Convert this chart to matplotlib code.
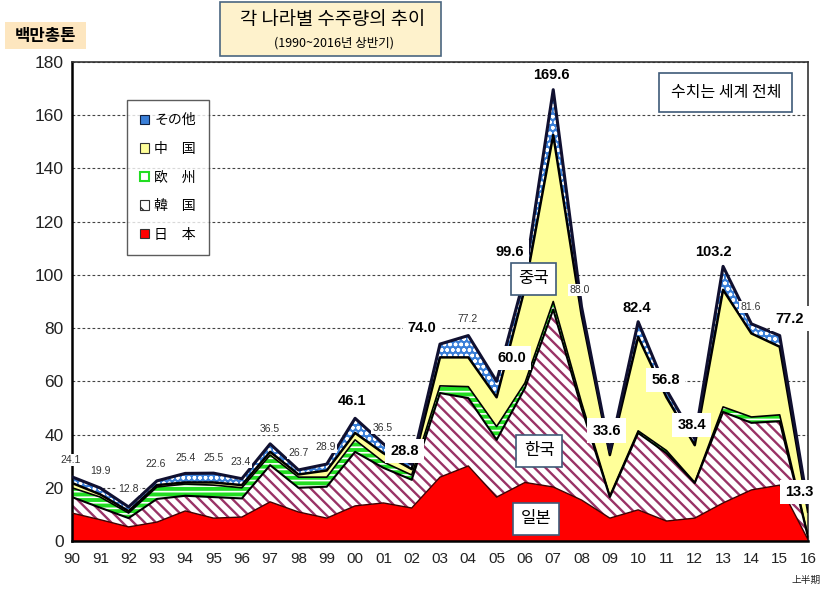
import matplotlib
matplotlib.use('Agg')
import matplotlib.pyplot as plt
from matplotlib.patches import Rectangle, Patch
import numpy as np

plt.rcParams['font.family'] = ['Liberation Sans', 'Noto Sans CJK KR', 'DejaVu Sans']

years = ['90', '91', '92', '93', '94', '95', '96', '97', '98', '99', '00', '01', '02',
         '03', '04', '05', '06', '07', '08', '09', '10', '11', '12', '13', '14', '15', '16']

# 백만총톤
japan = [10.5, 8.0, 5.3, 7.1, 11.3, 8.6, 9.0, 14.7, 10.9, 8.6, 13.2, 14.3, 12.4,
         24.0, 28.2, 16.5, 22.0, 20.3, 15.4, 8.6, 11.7, 7.5, 8.6, 14.3, 19.2, 21.0, 0.5]
korea = [6.0, 4.5, 3.3, 8.7, 5.7, 7.9, 7.0, 13.8, 9.1, 11.8, 20.3, 13.2, 10.6,
         31.6, 25.5, 21.5, 35.5, 66.7, 34.6, 7.9, 28.9, 25.5, 13.2, 34.2, 25.2, 24.0, 1.0]
europe = [3.5, 4.0, 1.9, 4.5, 4.4, 4.5, 4.0, 3.8, 4.0, 3.6, 4.5, 2.2, 1.8,
          2.7, 4.3, 5.0, 1.9, 3.0, 2.0, 0.5, 0.8, 1.0, 0.2, 1.9, 2.2, 2.4, 0.5]
china = [1.8, 1.0, 0.7, 0.7, 0.6, 1.0, 1.0, 1.2, 1.0, 2.5, 2.6, 3.3, 2.2,
         10.7, 11.0, 11.0, 35.6, 62.6, 33.0, 15.3, 35.3, 20.0, 14.0, 44.0, 31.4, 25.6, 9.0]
totals = [24.1, 19.9, 12.8, 22.6, 25.4, 25.5, 23.4, 36.5, 26.7, 28.9, 46.1, 36.5, 28.8,
          74.0, 77.2, 60.0, 99.6, 169.6, 88.0, 33.6, 82.4, 56.8, 38.4, 103.2, 81.6, 77.2, 13.3]
big_label = [0, 0, 0, 0, 0, 0, 0, 0, 0, 0, 1, 0, 1, 1, 0, 1, 1, 1, 0, 1, 1, 1, 1, 1, 0, 1, 1]

# label offsets in pixels from the top of the stack
label_dx = [-1, 0, 0, -1, 0, 0, -1, 0, 0, -1, -3, -1, -7, -18, -1, 15, -15, -2, -2, -3,
            -1, -1, -3, -10, -1, 10, -9]
label_dy = [17, 17, 18, 17, 15, 15, 17, 15, 17, 17, 17, 16, 13, 16, 17, 23, 24, 15, 17, 21,
            14, 10, 14, 14, 17, 17, 14]

x = np.arange(len(years))
c1 = np.array(japan)
c2 = c1 + np.array(korea)
c3 = c2 + np.array(europe)
c4 = c3 + np.array(china)
c5 = np.array(totals)

fig = plt.figure(figsize=(8.34, 5.96), dpi=100)
ax = fig.add_axes([72 / 834, 55 / 596, 736 / 834, 479 / 596])

red = '#ff0000'
maroon = '#993366'
green = '#22dd22'
yellow = '#ffff99'
blue = '#3a7fd8'

ax.fill_between(x, 0, c1, facecolor=red, linewidth=0, zorder=2)
with plt.rc_context({'hatch.linewidth': 1.7}):
    ax.fill_between(x, c1, c2, facecolor='white', hatch='\\\\\\', edgecolor=maroon,
                    linewidth=0, zorder=2)
with plt.rc_context({'hatch.linewidth': 1.2}):
    ax.fill_between(x, c2, c3, facecolor=green, hatch='---', edgecolor='white',
                    linewidth=0, zorder=2)
ax.fill_between(x, c3, c4, facecolor=yellow, linewidth=0, zorder=2)
with plt.rc_context({'hatch.linewidth': 1.0}):
    ax.fill_between(x, c4, c5, facecolor=blue, hatch='ooo', edgecolor='white',
                    linewidth=0, zorder=2)

ax.plot(x, c1, color='#400000', lw=1.0, zorder=3)
ax.plot(x, c2, color='black', lw=1.5, zorder=3)
ax.plot(x, c3, color='black', lw=1.2, zorder=3)
ax.plot(x, c4, color='black', lw=1.8, zorder=3)
ax.plot(x, c5, color='#101030', lw=2.2, zorder=3)

ax.set_xlim(0, len(years) - 1)
ax.set_ylim(0, 180)
ax.set_yticks(np.arange(0, 181, 20))
ax.set_xticks(x)
ax.set_xticklabels(years)
ax.tick_params(axis='y', length=0, labelsize=12.5, pad=6)
ax.tick_params(axis='x', direction='in', length=4, labelsize=11, pad=8, color='#444444')
for t in ax.get_yticklabels() + ax.get_xticklabels():
    t.set_color('#222222')
ax.grid(axis='y', color='#444444', linestyle=(0, (2.5, 2)), linewidth=0.8, zorder=1)
ax.set_axisbelow(True)
for side in ['left', 'bottom']:
    ax.spines[side].set_linewidth(1.8)
for side in ['top', 'right']:
    ax.spines[side].set_linewidth(1.2)
    ax.spines[side].set_color('#333333')

for i, v in enumerate(totals):
    if big_label[i]:
        ax.annotate(f'{v:.1f}', xy=(i, v), xytext=(label_dx[i], label_dy[i]),
                    textcoords='offset pixels', ha='center', va='center',
                    fontsize=10.5, fontweight='bold', color='black', zorder=6,
                    bbox=dict(boxstyle='square,pad=0.35', facecolor='white', edgecolor='none'))
    else:
        ax.annotate(f'{v:.1f}', xy=(i, v), xytext=(label_dx[i], label_dy[i]),
                    textcoords='offset pixels', ha='center', va='center',
                    fontsize=7.5, color='#333333', zorder=6,
                    bbox=dict(boxstyle='square,pad=0.1', facecolor='white', edgecolor='none'))

# country callouts
box_style = dict(boxstyle='square,pad=0.45', facecolor='white', edgecolor='#3e5a78', linewidth=1.2)
ax.text(16.3, 98.5, '중국', fontsize=12, ha='center', va='center', zorder=7, bbox=box_style,
        family=['Noto Sans CJK KR'])
ax.text(16.5, 34.0, '한국', fontsize=12, ha='center', va='center', zorder=7, bbox=box_style,
        family=['Noto Sans CJK KR'])
ax.text(16.4, 8.3, '일본', fontsize=12, ha='center', va='center', zorder=7, bbox=box_style,
        family=['Noto Sans CJK KR'])
ax.text(23.1, 168.5, '수치는 세계 전체', fontsize=11.5, ha='center', va='center', zorder=7,
        family=['Noto Sans CJK KR'], fontweight='medium',
        bbox=dict(boxstyle='square,pad=0.7', facecolor='white', edgecolor='#3e5a78', linewidth=1.2))

# legend
handles = [
    Patch(facecolor=blue, edgecolor='#102040', linewidth=0.8),
    Patch(facecolor=yellow, edgecolor='#333333', linewidth=0.8),
    Patch(facecolor='white', edgecolor=green, linewidth=1.5),
    Patch(facecolor='white', edgecolor='#333333', linewidth=0.8, hatch='\\\\'),
    Patch(facecolor=red, edgecolor='#333333', linewidth=0.8),
]
names = ['その他', '中\u3000国', '欧\u3000州', '韓\u3000国', '日\u3000本']
leg = ax.legend(handles, names, loc='upper left', bbox_to_anchor=(55 / 736, 1 - 38 / 479),
                frameon=True, fancybox=False, edgecolor='#333333',
                handlelength=0.65, handleheight=0.65, handletextpad=0.35,
                labelspacing=1.05, borderpad=0.95, borderaxespad=0,
                prop={'family': ['Noto Sans CJK JP'], 'size': 10})
leg.get_frame().set_linewidth(1.0)
leg.set_zorder(8)

# title block
fig.add_artist(Rectangle((220 / 834, 1 - 56 / 596), 221 / 834, 54 / 596,
                         transform=fig.transFigure, facecolor='#fef2cc',
                         edgecolor='#4a6680', linewidth=1.2))
fig.text(333 / 834, 1 - 19 / 596, '각 나라별 수주량의 추이', fontsize=13.5, ha='center',
         va='center', family=['Noto Sans CJK KR'])
fig.text(334 / 834, 1 - 43 / 596, '(1990~2016년 상반기)', fontsize=9, ha='center',
         va='center', family=['Noto Sans CJK KR'])

fig.add_artist(Rectangle((5 / 834, 1 - 49 / 596), 81 / 834, 27 / 596,
                         transform=fig.transFigure, facecolor='#fde6bf', edgecolor='none'))
fig.text(45 / 834, 1 - 36 / 596, '백만총톤', fontsize=12, fontweight='bold', ha='center',
         va='center', family=['Noto Sans CJK KR'])

fig.text(806 / 834, 1 - 580 / 596, '上半期', fontsize=7, ha='center', va='center',
         family=['Noto Sans CJK JP'], color='#222222')

fig.savefig('out.png', dpi=100)
